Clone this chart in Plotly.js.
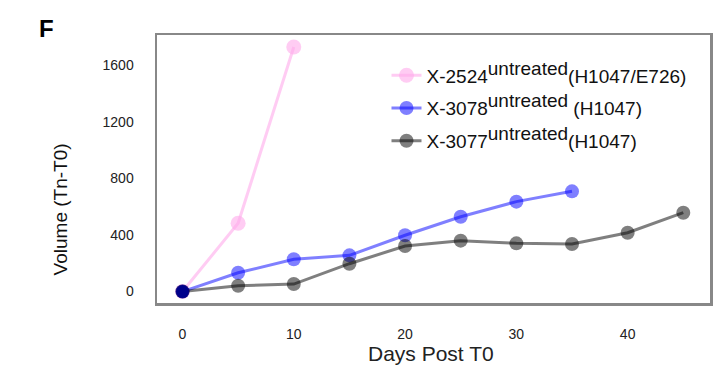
<!DOCTYPE html>
<html>
<head>
<meta charset="utf-8">
<script src="https://cdn.plot.ly/plotly-3.0.1.min.js"></script>
<style>html,body{margin:0;padding:0;background:#fff;}#chart{width:719px;height:366px;}</style>
</head>
<body>
<div id="chart"></div>
<script>
// Days post T0
const days2524 = [0, 5, 10];
const vol2524 = [0, 483, 1730];
const days3078 = [0, 5, 10, 15, 20, 25, 30, 35];
const vol3078 = [0, 133, 228, 256, 398, 529, 636, 709];
const days3077 = [0, 5, 10, 15, 20, 25, 30, 35, 40, 45];
const vol3077 = [0, 41, 53, 197, 322, 360, 341, 336, 416, 558];
const baselineDay = [0];
const baselineVol = [0];
const xTicks = [0, 10, 20, 30, 40];
const yTicks = [0, 400, 800, 1200, 1600];
const names = [
  'X-2524<sup><span style="font-size:19px">untreated</span></sup>(H1047/E726)',
  'X-3078<sup><span style="font-size:19px">untreated</span></sup> (H1047)',
  'X-3077<sup><span style="font-size:19px">untreated</span></sup>(H1047)'
];

const FONT = 'Liberation Sans, Arial, sans-serif';

const traces = [
  {x: days2524, y: vol2524, name: names[0], legendgroup: 'a', mode: 'lines+markers',
   line: {color: 'rgba(255,170,235,0.6)', width: 3},
   marker: {color: 'rgba(255,170,235,0.6)', size: 15}},
  {x: days3078, y: vol3078, name: names[1], legendgroup: 'b', mode: 'lines+markers',
   line: {color: 'rgba(0,0,255,0.5)', width: 3},
   marker: {color: 'rgba(0,0,255,0.5)', size: 14}},
  {x: days3077, y: vol3077, name: names[2], legendgroup: 'c', mode: 'lines+markers',
   line: {color: 'rgba(0,0,0,0.5)', width: 3},
   marker: {color: 'rgba(0,0,0,0.5)', size: 14}},
  {x: baselineDay, y: baselineVol, mode: 'markers', showlegend: false,
   marker: {color: '#00008b', size: 13}}
];

const layout = {
  width: 719, height: 366,
  margin: {l: 157, r: 9, t: 35, b: 63},
  paper_bgcolor: '#fff', plot_bgcolor: '#fff',
  font: {family: FONT, color: '#222', size: 14},
  showlegend: true,
  legend: {x: 0.415, xanchor: 'left', y: 0.92, yanchor: 'top',
           font: {size: 19, color: '#111', family: FONT},
           traceorder: 'grouped', tracegroupgap: 5,
           bgcolor: 'rgba(0,0,0,0)'},
  xaxis: {range: [-2.29, 47.4], tickvals: xTicks, showgrid: false, zeroline: false,
          showline: true, mirror: true, linecolor: '#888', linewidth: 2.5,
          ticks: '', ticklabelstandoff: 17, tickfont: {size: 14, color: '#222'},
          title: {text: ''}},
  yaxis: {range: [-81, 1815], tickvals: yTicks, showgrid: false, zeroline: false,
          showline: true, mirror: true, linecolor: '#888', linewidth: 2.5,
          ticks: '', ticklabelstandoff: 18, tickfont: {size: 14, color: '#222'},
          title: {text: ''}},
  annotations: [
    {text: '<b>F</b>', xref: 'paper', yref: 'paper', x: -0.2, y: 1.026,
     xanchor: 'center', yanchor: 'middle', showarrow: false,
     font: {size: 24, color: '#000', family: FONT}},
    {text: 'Volume (Tn-T0)', xref: 'paper', yref: 'paper', x: -0.175, y: 0.35,
     xanchor: 'center', yanchor: 'middle', textangle: -90, showarrow: false,
     font: {size: 19, color: '#111', family: FONT}},
    {text: 'Days Post T0', xref: 'paper', yref: 'paper', x: 0.495, y: -0.19,
     xanchor: 'center', yanchor: 'middle', showarrow: false,
     font: {size: 21, color: '#222', family: FONT}}
  ]
};

Plotly.newPlot('chart', traces, layout, {staticPlot: true, displayModeBar: false});
</script>
</body>
</html>
